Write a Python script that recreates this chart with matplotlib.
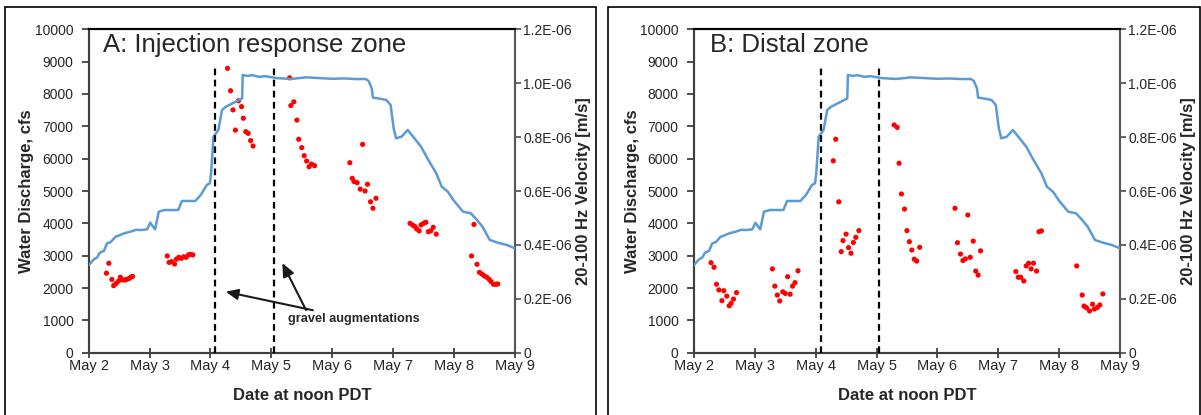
import matplotlib
matplotlib.use("Agg")
import matplotlib.pyplot as plt
from matplotlib.patches import Rectangle

plt.rcParams['font.family'] = ['Liberation Sans', 'DejaVu Sans']

# days after May 2 00:00 (x axis: "Date at noon PDT")
day_labels = ["May 2", "May 3", "May 4", "May 5", "May 6", "May 7", "May 8", "May 9"]
gravel_aug_days = [2.08, 3.04]

# water discharge, cfs (same record in both panels)
flow_days = [0.0, 0.08, 0.14, 0.18, 0.25, 0.3, 0.36, 0.44, 0.49, 0.58, 0.68, 0.78, 0.87,
             0.96, 1.01, 1.09, 1.15, 1.25, 1.47, 1.53, 1.75, 1.84, 1.94, 1.99, 2.01, 2.05,
             2.13, 2.19, 2.25, 2.31, 2.47, 2.52, 2.53, 2.6, 2.69, 2.8, 2.9, 3.01, 3.1,
             3.32, 3.57, 3.8, 4.0, 4.2, 4.4, 4.55, 4.6, 4.65, 4.67, 4.8, 4.89, 4.96, 5.01,
             5.05, 5.14, 5.24, 5.33, 5.46, 5.58, 5.71, 5.8, 5.9, 6.0, 6.15, 6.28, 6.37,
             6.47, 6.59, 6.72, 6.87, 7.0]
flow_cfs = [2711, 2880, 2950, 3090, 3150, 3381, 3420, 3588, 3620, 3691, 3740, 3800, 3794,
            3814, 4020, 3814, 4361, 4412, 4412, 4691, 4691, 4876, 5186, 5237, 5546, 6680,
            6887, 7505, 7600, 7660, 7814, 7866, 8588, 8560, 8580, 8530, 8550, 8515, 8490,
            8464, 8515, 8490, 8470, 8480, 8460, 8464, 8400, 8175, 7887, 7850, 7814, 7660,
            6938, 6629, 6680, 6887, 6680, 6371, 5959, 5546, 5134, 4979, 4700, 4361, 4309,
            4124, 3897, 3485, 3402, 3330, 3227]

# 20-100 Hz velocity, in 1E-06 m/s
a_days = [0.29, 0.33, 0.38, 0.41, 0.45, 0.49, 0.52, 0.56, 0.60, 0.62, 0.66, 0.69, 0.72,
          1.29, 1.32, 1.36, 1.41, 1.44, 1.48, 1.52, 1.56, 1.60, 1.64, 1.67, 1.71,
          2.28, 2.33, 2.37, 2.41, 2.46, 2.51, 2.54, 2.58, 2.62, 2.66, 2.70,
          3.30, 3.32, 3.37, 3.42, 3.45, 3.50, 3.54, 3.58, 3.62, 3.66, 3.71,
          4.29, 4.33, 4.36, 4.41, 4.46, 4.50, 4.54, 4.58, 4.63, 4.67, 4.72,
          5.28, 5.32, 5.36, 5.39, 5.43, 5.46, 5.50, 5.54, 5.58, 5.62, 5.66, 5.71,
          6.29, 6.33, 6.38, 6.42, 6.46, 6.50, 6.54, 6.58, 6.61, 6.65, 6.69, 6.72]
a_vel = [.295, .332, .272, .249, .257, .266, .280, .270, .270, .272, .275, .280, .283,
         .359, .335, .338, .329, .347, .354, .350, .356, .354, .363, .365, .363,
         1.055, .972, .901, .826, .935, .913, .870, .820, .814, .787, .767,
         1.020, .917, .931, .863, .792, .761, .731, .711, .690, .700, .694,
         .705, .647, .635, .631, .607, .773, .600, .625, .560, .536, .573,
         .480, .474, .468, .459, .452, .474, .480, .484, .449, .452, .465, .440,
         .359, .476, .328, .298, .292, .285, .280, .272, .264, .254, .254, .255]

b_days = [0.28, 0.33, 0.37, 0.41, 0.46, 0.49, 0.54, 0.58, 0.61, 0.65, 0.70,
          1.29, 1.33, 1.37, 1.41, 1.46, 1.50, 1.54, 1.58, 1.62, 1.66, 1.71,
          2.29, 2.33, 2.38, 2.42, 2.45, 2.50, 2.54, 2.58, 2.62, 2.66, 2.71,
          3.29, 3.34, 3.37, 3.41, 3.46, 3.50, 3.54, 3.58, 3.62, 3.66, 3.71,
          4.29, 4.33, 4.38, 4.42, 4.46, 4.50, 4.54, 4.59, 4.63, 4.67, 4.71,
          5.29, 5.33, 5.37, 5.42, 5.46, 5.50, 5.54, 5.58, 5.63, 5.67, 5.71,
          6.29, 6.38, 6.41, 6.45, 6.50, 6.55, 6.58, 6.63, 6.67, 6.72]
b_vel = [.334, .317, .254, .233, .193, .230, .210, .174, .183, .199, .223,
         .311, .247, .214, .192, .226, .220, .282, .217, .247, .260, .304,
         .712, .792, .560, .375, .416, .440, .390, .369, .409, .428, .453,
         .845, .836, .703, .589, .533, .453, .412, .381, .347, .340, .391,
         .536, .408, .366, .342, .348, .511, .354, .414, .303, .288, .378,
         .301, .280, .280, .266, .322, .332, .311, .332, .303, .449, .452,
         .322, .214, .173, .167, .155, .180, .162, .168, .177, .218]

flow_ticks = [0, 1000, 2000, 3000, 4000, 5000, 6000, 7000, 8000, 9000, 10000]
vel_ticks = [0, 0.2, 0.4, 0.6, 0.8, 1.0, 1.2]
vel_tick_labels = ["0", "0.2E-06", "0.4E-06", "0.6E-06", "0.8E-06", "1.0E-06", "1.2E-06"]

txt = '#262626'
fig = plt.figure(figsize=(12.01, 4.15), dpi=100)


def panel(left, title, title_x, days, vel, arrows):
    ax = fig.add_axes([left, 0.1501, 0.3547, 0.7793])
    ax2 = ax.twinx()
    ax.plot(flow_days, flow_cfs, color='#5b9bd5', lw=1.8, zorder=3)
    ax.vlines(gravel_aug_days, 0, 8800, colors='black', lw=1.6,
              linestyles=(0, (3, 2)), zorder=4)
    ax2.scatter(days, vel, s=14, color='#ff0000', edgecolors='none', zorder=2)

    ax.set_xlim(0, 7)
    ax.set_ylim(0, 10000)
    ax2.set_ylim(0, 1.2)
    ax.set_xticks(range(8))
    ax.set_xticklabels(day_labels)
    ax.set_yticks(flow_ticks)
    ax2.set_yticks(vel_ticks)
    ax2.set_yticklabels(vel_tick_labels)

    ax.tick_params(axis='y', direction='out', length=5, width=1.3, pad=6,
                   labelsize=10, colors='#404040', labelcolor=txt)
    ax.tick_params(axis='x', direction='inout', length=7, width=1.3, pad=1,
                   labelsize=10.5, colors='#404040', labelcolor=txt)
    ax2.tick_params(axis='y', direction='out', length=4, width=1.3, pad=2,
                    labelsize=10, colors='#595959', labelcolor=txt)

    for a in (ax, ax2):
        a.spines['left'].set_color('#404040')
        a.spines['bottom'].set_color('#404040')
        a.spines['right'].set_color('#595959')
        a.spines['top'].set_color('black')
        for s in a.spines.values():
            s.set_linewidth(1.5)

    ax.set_xlabel("Date at noon PDT", fontsize=12, fontweight='bold', color=txt)
    ax.xaxis.set_label_coords(0.5, -0.131)
    ax.xaxis.label.set_va('center')
    ax.set_ylabel("Water Discharge, cfs", fontsize=12, fontweight='bold', color=txt)
    ax.yaxis.set_label_coords(-0.145, 0.5)
    ax.yaxis.label.set_va('center')
    ax2.set_ylabel("20-100 Hz Velocity [m/s]", fontsize=12, fontweight='bold', color=txt)
    ax2.yaxis.set_label_coords(1.161, 0.5)
    ax2.yaxis.label.set_va('center')

    ax.text(title_x, 0.951, title, transform=ax.transAxes, fontsize=18.5,
            color=txt, ha='left', va='center', zorder=5)

    if arrows:
        ap = dict(arrowstyle='-|>,head_length=0.8,head_width=0.35', color='#1a1a1a',
                  lw=1.5, shrinkA=0, shrinkB=0)
        ax.annotate("gravel augmentations", xy=(2.25, 1886), xytext=(3.28, 1042),
                    fontsize=9.2, fontweight='bold', color=txt, ha='left', va='center',
                    arrowprops=ap, zorder=6)
        ax.annotate("", xy=(3.18, 2774), xytext=(3.57, 1320), arrowprops=ap, zorder=6)
    ax2.set_zorder(ax.get_zorder() - 1)
    ax.patch.set_visible(False)
    return ax


panel(0.0739, "A: Injection response zone", 0.033, a_days, a_vel, True)
panel(0.5778, "B: Distal zone", 0.038, b_days, b_vel, False)

# frames around the two panels
for x0, x1 in [(4.6, 595.5), (608.4, 1200)]:
    fig.add_artist(Rectangle((x0 / 1201, -0.1), (x1 - x0) / 1201, 1.1 - 7.3 / 415,
                             transform=fig.transFigure, fill=False, edgecolor='black',
                             lw=1.2, clip_on=False))

fig.savefig("out.png", dpi=100)
